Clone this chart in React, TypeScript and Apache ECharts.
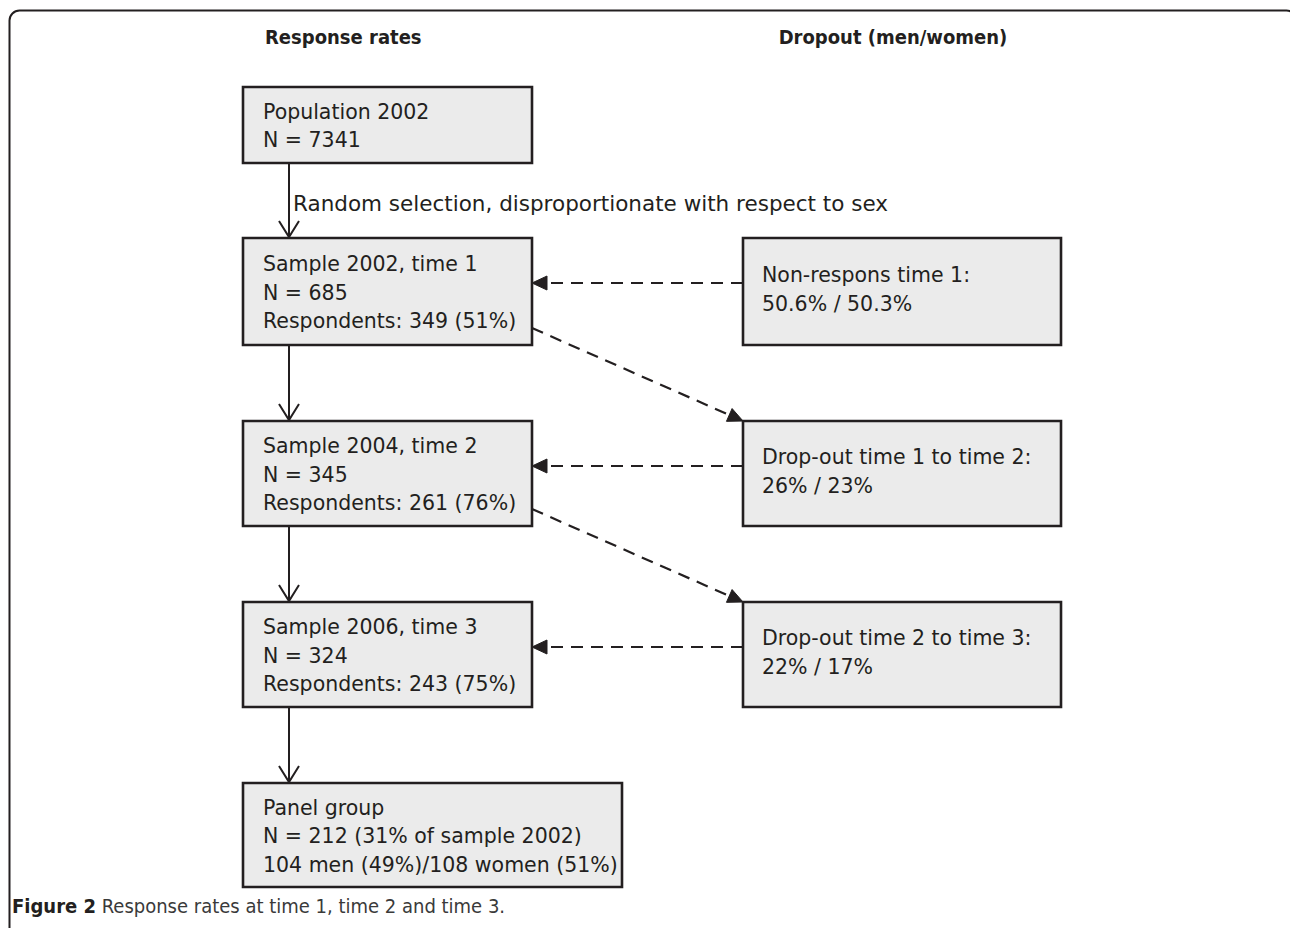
import React, { useEffect, useRef } from "react";
import * as echarts from "echarts";

// ---- content ----
const columnHeaders = ["Response rates", "Dropout (men/women)"];
const mainBoxes = [
  ["Population 2002", "N = 7341"],
  ["Sample 2002, time 1", "N = 685", "Respondents: 349 (51%)"],
  ["Sample 2004, time 2", "N = 345", "Respondents: 261 (76%)"],
  ["Sample 2006, time 3", "N = 324", "Respondents: 243 (75%)"],
  ["Panel group", "N = 212 (31% of sample 2002)", "104 men (49%)/108 women (51%)"],
];
const dropoutBoxes = [
  ["Non-respons time 1:", "50.6% / 50.3%"],
  ["Drop-out time 1 to time 2:", "26% / 23%"],
  ["Drop-out time 2 to time 3:", "22% / 17%"],
];
const selectionLabel = "Random selection, disproportionate with respect to sex";
const captionBold = "Figure 2";
const captionText = " Response rates at time 1, time 2 and time 3.";

// ---- layout ----
const INK = "#231f20";
const FILL = "#ebebeb";
const FONT = "'DejaVu Sans', Verdana, sans-serif";
const NARROW = "'DejaVu Sans Condensed', 'Liberation Sans', sans-serif";
const FS = 20.5;
const LH = 28.5;
const mainX = 243;
const mainRowY = [[87, 163], [238, 345], [421, 526], [602, 707], [783, 887]];
const mainW = [289, 289, 289, 289, 379];
const dropX = 743;
const dropW = 318;
const dropRowIdx = [1, 2, 3];
const arrowX = 289;
const sideArrowOffset = 45;

function rectBox(x: number, y: number, w: number, h: number) {
  return {
    type: "rect",
    shape: { x, y, width: w, height: h },
    style: { fill: FILL, stroke: INK, lineWidth: 2.6 },
  };
}
function boxText(x: number, cy: number, lines: string[]) {
  return {
    type: "text",
    x,
    y: cy + 1,
    style: {
      text: lines.join("\n"),
      font: `${FS}px ${FONT}`,
      fill: INK,
      lineHeight: LH,
      verticalAlign: "middle",
      align: "left",
    },
  };
}
function filledHead(x1: number, y1: number, x2: number, y2: number, len = 15, hw = 7) {
  const dx = x2 - x1, dy = y2 - y1;
  const d = Math.hypot(dx, dy);
  const ux = dx / d, uy = dy / d;
  const bx = x2 - ux * len, by = y2 - uy * len;
  return {
    type: "polygon",
    shape: { points: [[x2, y2], [bx - uy * hw, by + ux * hw], [bx + uy * hw, by - ux * hw]] },
    style: { fill: INK, stroke: INK, lineWidth: 1 },
  };
}
function dashedArrow(x1: number, y1: number, x2: number, y2: number) {
  const dx = x2 - x1, dy = y2 - y1;
  const d = Math.hypot(dx, dy);
  const ex = x2 - (dx / d) * 12, ey = y2 - (dy / d) * 12;
  return [
    {
      type: "line",
      shape: { x1, y1, x2: ex, y2: ey },
      style: { stroke: INK, lineWidth: 2.2, lineDash: [12, 8] },
    },
    filledHead(x1, y1, x2, y2),
  ];
}
function solidArrow(x: number, y1: number, y2: number) {
  return [
    { type: "line", shape: { x1: x, y1, x2: x, y2: y2 - 1 }, style: { stroke: INK, lineWidth: 2 } },
    {
      type: "polyline",
      shape: { points: [[x - 10, y2 - 17], [x, y2 - 1], [x + 10, y2 - 17]] },
      style: { stroke: INK, lineWidth: 2, fill: null },
    },
  ];
}

export default function App() {
  const ref = useRef<HTMLDivElement>(null);
  useEffect(() => {
    if (!ref.current) return;
    const chart = echarts.init(ref.current, null, { renderer: "svg" });
    const els: any[] = [];
    // outer frame
    els.push({
      type: "rect",
      shape: { x: 9.5, y: 10.5, width: 1287, height: 1000, r: 10 },
      style: { fill: "#fff", stroke: INK, lineWidth: 2 },
    });
    // headers
    els.push({
      type: "text", x: 265, y: 37,
      style: { text: columnHeaders[0], font: `bold 20px ${NARROW}`, fill: INK, align: "left", verticalAlign: "middle" },
    });
    els.push({
      type: "text", x: 893, y: 37,
      style: { text: columnHeaders[1], font: `bold 20px ${NARROW}`, fill: INK, align: "center", verticalAlign: "middle" },
    });
    // vertical arrows
    for (let i = 0; i < mainBoxes.length - 1; i++) {
      els.push(...solidArrow(arrowX, mainRowY[i][1], mainRowY[i + 1][0]));
    }
    els.push({
      type: "text", x: 293, y: 203,
      style: { text: selectionLabel, font: `21.5px ${FONT}`, fill: INK, align: "left", verticalAlign: "middle" },
    });
    // side dashed arrows
    dropoutBoxes.forEach((_, k) => {
      const r = dropRowIdx[k];
      const [t] = mainRowY[r];
      els.push(...dashedArrow(dropX, t + sideArrowOffset, mainX + mainW[r], t + sideArrowOffset));
    });
    // diagonal dashed arrows
    for (let k = 1; k < dropoutBoxes.length; k++) {
      const src = dropRowIdx[k - 1];
      const dst = dropRowIdx[k];
      els.push(...dashedArrow(mainX + mainW[src], mainRowY[src][1] - 17, dropX, mainRowY[dst][0]));
    }
    // main boxes
    mainBoxes.forEach((lines, i) => {
      const [t, b] = mainRowY[i];
      els.push(rectBox(mainX, t, mainW[i], b - t));
      els.push(boxText(mainX + 20, (t + b) / 2, lines));
    });
    // dropout boxes
    dropoutBoxes.forEach((lines, k) => {
      const [t, b] = mainRowY[dropRowIdx[k]];
      els.push(rectBox(dropX, t, dropW, b - t));
      els.push(boxText(dropX + 19, (t + b) / 2 - 3, lines));
    });
    // caption
    els.push({
      type: "text", x: 12, y: 906,
      style: {
        text: `{b|${captionBold}}{r|${captionText}}`,
        verticalAlign: "middle",
        rich: {
          b: { font: `bold 20px ${NARROW}`, fill: INK },
          r: { font: `20px ${NARROW}`, fill: "#3a3a3a" },
        },
      },
    });
    chart.setOption({ animation: false, graphic: { elements: els } });
    return () => chart.dispose();
  }, []);
  return (
    <div
      ref={ref}
      style={{ position: "absolute", left: 0, top: 0, width: 1290, height: 928, background: "#fff" }}
    />
  );
}
